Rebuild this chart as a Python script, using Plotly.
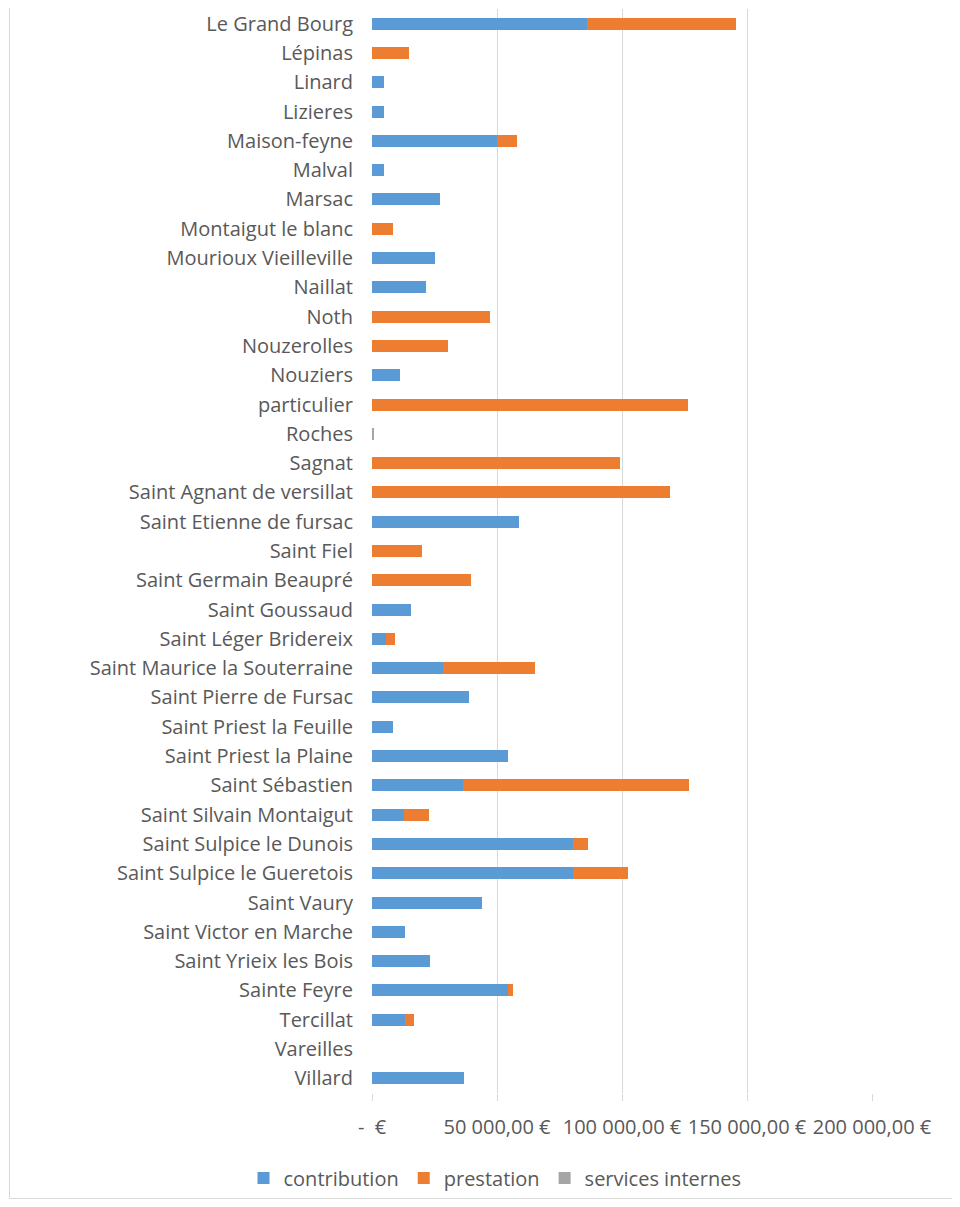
import plotly.graph_objects as go

communes = [
    "Le Grand Bourg", "Lépinas", "Linard", "Lizieres", "Maison-feyne", "Malval",
    "Marsac", "Montaigut le blanc", "Mourioux Vieilleville", "Naillat", "Noth",
    "Nouzerolles", "Nouziers", "particulier", "Roches", "Sagnat",
    "Saint Agnant de versillat", "Saint Etienne de fursac", "Saint Fiel",
    "Saint Germain Beaupré", "Saint Goussaud", "Saint Léger Bridereix",
    "Saint Maurice la Souterraine", "Saint Pierre de Fursac",
    "Saint Priest la Feuille", "Saint Priest la Plaine", "Saint Sébastien",
    "Saint Silvain Montaigut", "Saint Sulpice le Dunois",
    "Saint Sulpice le Gueretois", "Saint Vaury", "Saint Victor en Marche",
    "Saint Yrieix les Bois", "Sainte Feyre", "Tercillat", "Vareilles", "Villard",
]

contribution = [
    85800, 0, 4700, 4700, 50000, 4700,
    27200, 0, 25300, 21400, 0,
    0, 11100, 0, 0, 0,
    0, 58800, 0,
    0, 15700, 5500,
    28300, 38700,
    8400, 54200, 36500,
    12900, 80200,
    80400, 43800, 13000,
    23300, 54200, 13000, 0, 36900,
]

prestation = [
    59800, 14900, 0, 0, 8000, 0,
    0, 8400, 0, 0, 47100,
    30400, 0, 126300, 0, 99300,
    119300, 0, 20100,
    39400, 0, 3600,
    36800, 0,
    0, 0, 90400,
    9800, 6100,
    22000, 0, 0,
    0, 2000, 3800, 0, 0,
]

services_internes = [
    0, 0, 0, 0, 0, 0,
    0, 0, 0, 0, 0,
    0, 0, 0, 600, 0,
    0, 0, 0,
    0, 0, 0,
    0, 0,
    0, 0, 0,
    0, 0,
    0, 0, 0,
    0, 0, 0, 0, 0,
]

tick_values = [0, 50000, 100000, 150000, 200000]
tick_labels = ["-  €", "50 000,00 €", "100 000,00 €", "150 000,00 €", "200 000,00 €"]

FONT = "Open Sans"
TXT = "#595959"
FS = 20

fig = go.Figure()
for name, vals, col in [
    ("contribution", contribution, "#5B9BD5"),
    ("prestation", prestation, "#ED7D31"),
    ("services internes", services_internes, "#A5A5A5"),
]:
    fig.add_trace(go.Bar(
        y=communes, x=vals, name=name, orientation="h",
        marker=dict(color=col, line=dict(width=0)),
    ))

# page body has an 8px margin, so the figure is sized/offset to compensate
W, H = 944, 1191
L, R, T, B = 364, 80, 1, 106
PW = W - L - R
PH = H - T - B
bottom_px = H - B

fig.update_layout(
    width=W, height=H,
    barmode="stack",
    bargap=0.59,
    margin=dict(l=L, r=R, t=T, b=B, autoexpand=False),
    paper_bgcolor="white",
    plot_bgcolor="white",
    font=dict(family=FONT, size=FS, color=TXT),
    showlegend=True,
    legend=dict(
        orientation="h", x=0.246, xanchor="center",
        y=-(1170 - bottom_px) / PH, yanchor="middle",
        font=dict(family=FONT, size=FS, color=TXT),
        itemwidth=30, traceorder="normal",
    ),
    xaxis=dict(
        range=[0, 200000],
        tickvals=tick_values, ticktext=tick_labels,
        showgrid=True, gridcolor="#D9D9D9", gridwidth=1,
        zeroline=False, showline=False,
        ticks="outside", ticklen=7, tickcolor="#D9D9D9",
        ticklabelstandoff=9,
        tickfont=dict(family=FONT, size=FS, color=TXT),
        fixedrange=True,
    ),
    yaxis=dict(
        categoryorder="array", categoryarray=communes,
        autorange="reversed",
        showgrid=False, zeroline=False, showline=False,
        ticks="", ticklabelstandoff=18,
        tickfont=dict(family=FONT, size=FS, color=TXT),
        fixedrange=True,
    ),
    shapes=[
        dict(type="line", xref="paper", yref="paper",
             x0=(1.5 - L) / PW, x1=(1.5 - L) / PW,
             y0=1 + T / PH, y1=-(1190.5 - bottom_px) / PH,
             line=dict(color="#D9D9D9", width=1)),
        dict(type="line", xref="paper", yref="paper",
             x0=(1.5 - L) / PW, x1=1 + R / PW,
             y0=-(1190.5 - bottom_px) / PH, y1=-(1190.5 - bottom_px) / PH,
             line=dict(color="#D9D9D9", width=1)),
    ],
)

fig.write_html("out.html")
